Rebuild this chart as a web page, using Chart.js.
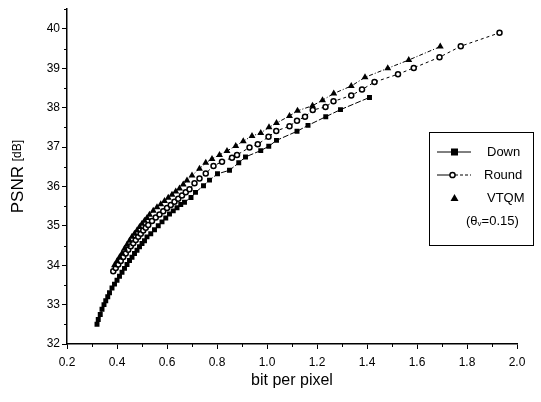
<!DOCTYPE html>
<html>
<head>
  <script src="https://cdn.jsdelivr.net/npm/chart.js"></script>
  <style>
    html, body { margin: 0; padding: 0; background: #fff; }
    #wrap { width: 541px; height: 402px; position: relative; }
  </style>
</head>
<body>
  <div id="wrap"><canvas id="myChart"></canvas></div>

  <script>
    // values
    var bppDown  = [0.32, 0.325, 0.333, 0.34, 0.348, 0.355, 0.363, 0.37, 0.38, 0.39, 0.40, 0.41, 0.42, 0.43, 0.44, 0.45, 0.46, 0.47, 0.48, 0.49, 0.50, 0.51, 0.52, 0.535, 0.55, 0.565, 0.58, 0.595, 0.61, 0.625, 0.64, 0.655, 0.67, 0.696, 0.714, 0.746, 0.77, 0.802, 0.85, 0.887, 0.914, 0.975, 1.007, 1.038, 1.12, 1.164, 1.235, 1.294, 1.41];
    var psnrDown = [32.5, 32.62, 32.75, 32.88, 33.0, 33.1, 33.2, 33.3, 33.42, 33.52, 33.62, 33.72, 33.82, 33.92, 34.02, 34.12, 34.2, 34.3, 34.38, 34.47, 34.55, 34.62, 34.72, 34.8, 34.9, 35.0, 35.1, 35.2, 35.3, 35.38, 35.46, 35.54, 35.6, 35.72, 35.85, 36.02, 36.16, 36.32, 36.41, 36.6, 36.75, 36.91, 37.02, 37.17, 37.4, 37.55, 37.77, 37.95, 38.26];

    var bppRound  = [0.385, 0.395, 0.405, 0.415, 0.425, 0.435, 0.445, 0.455, 0.465, 0.475, 0.485, 0.495, 0.505, 0.515, 0.525, 0.54, 0.555, 0.57, 0.585, 0.60, 0.615, 0.63, 0.645, 0.66, 0.675, 0.69, 0.71, 0.73, 0.755, 0.786, 0.82, 0.86, 0.88, 0.93, 0.963, 1.006, 1.037, 1.09, 1.12, 1.152, 1.183, 1.234, 1.266, 1.337, 1.38, 1.43, 1.524, 1.587, 1.69, 1.775, 1.93];
    var psnrRound = [33.85, 33.93, 34.02, 34.11, 34.21, 34.3, 34.39, 34.48, 34.56, 34.64, 34.72, 34.8, 34.88, 34.95, 35.02, 35.12, 35.21, 35.29, 35.37, 35.45, 35.53, 35.61, 35.69, 35.77, 35.85, 35.93, 36.08, 36.2, 36.33, 36.52, 36.63, 36.73, 36.8, 36.99, 37.07, 37.26, 37.41, 37.53, 37.67, 37.77, 37.94, 38.02, 38.16, 38.31, 38.46, 38.65, 38.85, 39.01, 39.28, 39.56, 39.9];

    var bppVtqm  = [0.39, 0.40, 0.41, 0.42, 0.43, 0.44, 0.45, 0.46, 0.47, 0.48, 0.49, 0.50, 0.51, 0.52, 0.53, 0.545, 0.56, 0.575, 0.59, 0.605, 0.62, 0.635, 0.65, 0.665, 0.68, 0.70, 0.73, 0.755, 0.78, 0.81, 0.84, 0.875, 0.905, 0.94, 0.975, 1.008, 1.038, 1.09, 1.122, 1.182, 1.222, 1.267, 1.337, 1.392, 1.483, 1.567, 1.693];
    var psnrVtqm = [34.0, 34.1, 34.2, 34.3, 34.42, 34.52, 34.62, 34.72, 34.8, 34.88, 34.97, 35.05, 35.13, 35.2, 35.28, 35.38, 35.47, 35.55, 35.63, 35.71, 35.79, 35.87, 35.95, 36.05, 36.15, 36.28, 36.45, 36.6, 36.7, 36.8, 36.9, 37.03, 37.15, 37.28, 37.36, 37.5, 37.61, 37.79, 37.92, 38.05, 38.19, 38.36, 38.55, 38.77, 39.0, 39.21, 39.55];

    var seriesNames = ['Down', 'Round', 'VTQM'];
    var noteText = ['(θ', 'v', '=0.15)'];
    var yTitle = ['PSNR', '[dB]'];

    var FONT = '"Liberation Sans", Arial, sans-serif';

    function pts(xs, ys) {
      return xs.map(function (x, i) { return { x: x, y: ys[i] }; });
    }

    // short minor ticks on both axes, and the y title with its smaller unit
    var axisExtras = {
      id: 'axisExtras',
      afterDraw: function (chart) {
        var c = chart.ctx, a = chart.chartArea;
        var sx = chart.scales.x, sy = chart.scales.y;
        c.save();
        c.strokeStyle = '#000';
        c.lineWidth = 1;
        c.beginPath();
        sx.ticks.forEach(function (t) {
          if (Math.round(t.value * 10) % 2 !== 0) {
            var px = Math.round(sx.getPixelForValue(t.value)) + 0.5;
            c.moveTo(px, a.bottom); c.lineTo(px, a.bottom + 3);
          }
        });
        sy.ticks.forEach(function (t) {
          if (Math.abs(t.value - Math.round(t.value)) > 0.01) {
            var py = Math.round(sy.getPixelForValue(t.value)) + 0.5;
            c.moveTo(a.left, py); c.lineTo(a.left - 3, py);
          }
        });
        c.stroke();

        // rotated y title
        c.translate(18, (a.top + a.bottom) / 2);
        c.rotate(-Math.PI / 2);
        c.fillStyle = '#000';
        c.textBaseline = 'middle';
        c.font = '17px ' + FONT;
        var w1 = c.measureText(yTitle[0] + ' ').width;
        c.font = '12px ' + FONT;
        var w2 = c.measureText(yTitle[1]).width;
        var x0 = -(w1 + w2) / 2;
        c.font = '17px ' + FONT;
        c.fillText(yTitle[0], x0, 0);
        c.font = '12px ' + FONT;
        c.fillText(yTitle[1], x0 + w1, 0);
        c.restore();
      }
    };

    // boxed legend inside the plot
    var boxLegend = {
      id: 'boxLegend',
      afterDraw: function (chart) {
        var c = chart.ctx;
        var bx = 429, by = 132, bw = 104, bh = 113;
        c.save();
        c.fillStyle = '#fff';
        c.fillRect(bx, by, bw, bh);
        c.strokeStyle = '#000';
        c.lineWidth = 1;
        c.strokeRect(bx + 0.5, by + 0.5, bw, bh);

        c.fillStyle = '#000';
        c.font = '13px ' + FONT;
        c.textBaseline = 'middle';

        // Down
        var y = 152;
        c.beginPath(); c.moveTo(437, y); c.lineTo(471, y); c.stroke();
        c.fillRect(451, y - 3.5, 7, 7);
        c.fillText(seriesNames[0], 487, y);

        // Round
        y = 175;
        c.beginPath(); c.moveTo(437, y); c.lineTo(450, y); c.stroke();
        c.setLineDash([3, 2]);
        c.beginPath(); c.moveTo(455, y); c.lineTo(471, y); c.stroke();
        c.setLineDash([]);
        c.lineWidth = 1.5;
        c.beginPath(); c.arc(452.5, y, 2.6, 0, Math.PI * 2);
        c.fillStyle = '#fff'; c.fill(); c.stroke();
        c.lineWidth = 1;
        c.fillStyle = '#000';
        c.fillText(seriesNames[1], 484, y);

        // VTQM
        y = 198;
        c.beginPath();
        c.moveTo(454.5, y - 4); c.lineTo(458.5, y + 3); c.lineTo(450.5, y + 3);
        c.closePath(); c.fill();
        c.fillText(seriesNames[2], 487, y);

        // (θv=0.15)
        y = 221;
        var x = 466;
        c.font = '13px ' + FONT;
        c.fillText(noteText[0], x, y);
        x += c.measureText(noteText[0]).width;
        c.font = '8px ' + FONT;
        c.fillText(noteText[1], x, y + 3);
        x += c.measureText(noteText[1]).width;
        c.font = '13px ' + FONT;
        c.fillText(noteText[2], x, y);
        c.restore();
      }
    };

    var ctx = document.getElementById('myChart').getContext('2d');
    var myChart = new Chart(ctx, {
      type: 'scatter',
      data: {
        datasets: [{
          label: seriesNames[0],
          data: pts(bppDown, psnrDown),
          order: 2,
          showLine: true,
          borderColor: '#000',
          borderWidth: 1,
          borderDash: [6, 2],
          pointStyle: 'rect',
          pointRadius: 3.5,
          pointBackgroundColor: '#000',
          pointBorderColor: '#000',
          pointBorderWidth: 0
        }, {
          label: seriesNames[1],
          data: pts(bppRound, psnrRound),
          order: 1,
          showLine: true,
          borderColor: '#000',
          borderWidth: 1,
          borderDash: [3, 3],
          pointStyle: 'circle',
          pointRadius: 2.5,
          pointBackgroundColor: '#fff',
          pointBorderColor: '#000',
          pointBorderWidth: 1.5
        }, {
          label: seriesNames[2],
          data: pts(bppVtqm, psnrVtqm),
          order: 0,
          showLine: true,
          borderColor: '#000',
          borderWidth: 1,
          borderDash: [4, 2, 1, 2],
          pointStyle: 'triangle',
          pointRadius: 4,
          pointBackgroundColor: '#000',
          pointBorderColor: '#000',
          pointBorderWidth: 0
        }]
      },
      options: {
        responsive: true,
        maintainAspectRatio: false,
        animation: false,
        layout: { padding: { left: 0, right: 24, top: 9, bottom: 0 } },
        plugins: {
          legend: { display: false },
          tooltip: { enabled: false }
        },
        scales: {
          x: {
            type: 'linear',
            min: 0.2,
            max: 2.0,
            afterFit: function (s) { s.height = 58; },
            border: { color: '#000', width: 1.5 },
            grid: {
              drawOnChartArea: false,
              tickLength: 5,
              tickColor: function (c) {
                return (c.tick && Math.round(c.tick.value * 10) % 2 === 0) ? '#000' : 'rgba(0,0,0,0)';
              }
            },
            ticks: {
              stepSize: 0.1,
              padding: 6,
              maxRotation: 0,
              autoSkip: false,
              color: '#000',
              font: { family: FONT, size: 12 },
              callback: function (v) {
                return Math.round(v * 10) % 2 === 0 ? v.toFixed(1) : '';
              }
            },
            title: {
              display: true,
              text: 'bit per pixel',
              color: '#000',
              font: { family: FONT, size: 16 },
              padding: { top: 0, bottom: 12 }
            }
          },
          y: {
            type: 'linear',
            min: 32,
            max: 40.5,
            afterFit: function (s) { s.width = 67; },
            border: { color: '#000', width: 1.5 },
            grid: {
              drawOnChartArea: false,
              tickLength: 5,
              tickColor: function (c) {
                return (c.tick && Math.abs(c.tick.value - Math.round(c.tick.value)) < 0.01) ? '#000' : 'rgba(0,0,0,0)';
              }
            },
            ticks: {
              stepSize: 0.5,
              padding: 2,
              autoSkip: false,
              color: '#000',
              font: { family: FONT, size: 12 },
              callback: function (v) {
                return Math.abs(v - Math.round(v)) < 0.01 ? String(Math.round(v)) : '';
              }
            }
          }
        }
      },
      plugins: [axisExtras, boxLegend]
    });
  </script>
</body>
</html>
